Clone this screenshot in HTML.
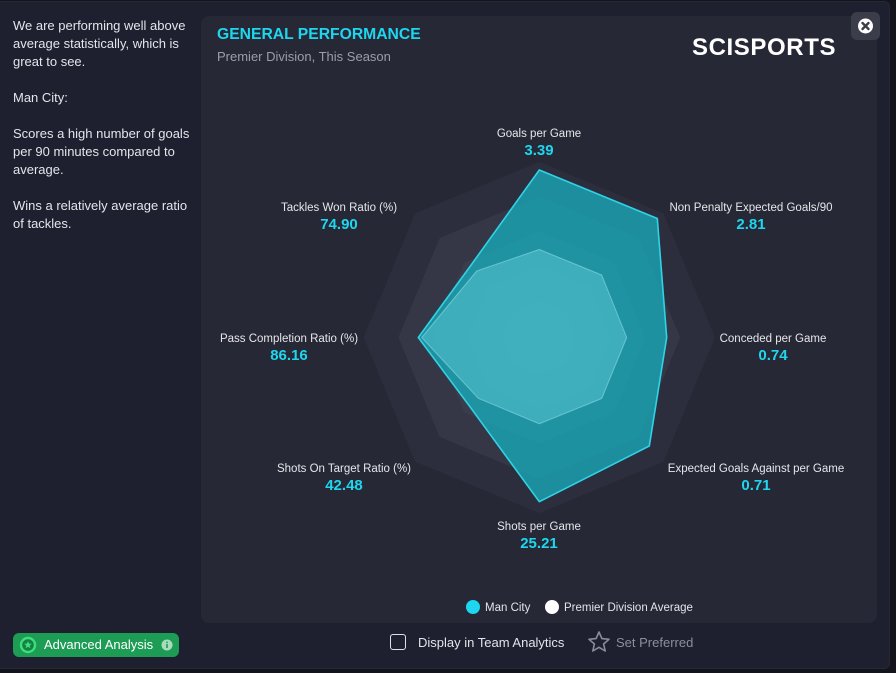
<!DOCTYPE html>
<html>
<head>
<meta charset="utf-8">
<style>
  html,body{margin:0;padding:0;}
  body{width:896px;height:673px;background:#14151c;position:relative;overflow:hidden;font-family:"Liberation Sans",sans-serif;}
  .modal{position:absolute;left:0;top:1px;width:889px;height:666px;background:#1e2030;border:1px solid #262838;border-left:none;border-radius:0 6px 6px 0;}
  .panel{position:absolute;left:201px;top:16px;width:676px;height:607px;background:#262836;border-radius:8px;}
  .lefttext{position:absolute;left:13px;top:17px;width:180px;color:#e4e4ea;font-size:13px;line-height:18px;}
  .lefttext p{margin:0 0 18px 0;}
  .title{position:absolute;left:217px;top:26px;color:#1ed6ee;font-weight:bold;font-size:15.7px;line-height:18px;white-space:nowrap;}
  .sub{position:absolute;left:217px;top:49px;color:#9b9da8;font-size:13px;line-height:16px;white-space:nowrap;}
  .logo{position:absolute;left:692px;top:34px;color:#fff;font-weight:bold;font-size:24px;line-height:28px;letter-spacing:0.6px;white-space:nowrap;}
  .close{position:absolute;left:851px;top:12px;width:29px;height:28px;background:#3b3d4b;border-radius:6px;}
  .lbl{position:absolute;width:300px;text-align:center;white-space:nowrap;}
  .lbl .n{color:#e6e6ea;font-size:11.5px;line-height:14px;height:14px;}
  .lbl .v{color:#1ed6ee;font-size:15px;font-weight:bold;line-height:20px;}
  .leg{position:absolute;top:601px;color:#e4e4ea;font-size:11.5px;line-height:14px;white-space:nowrap;}
  .dot{position:absolute;width:14px;height:14px;border-radius:50%;top:600px;}
  .bt{position:absolute;top:635px;font-size:13px;line-height:16px;white-space:nowrap;}
  .adv{position:absolute;left:13px;top:633px;width:166px;height:24px;background:#1d9c55;border-radius:6px;}
</style>
</head>
<body>
<div class="modal"></div>
<div class="panel"></div>

<div class="lefttext">
  <p>We are performing well above average statistically, which is great to see.</p>
  <p>Man City:</p>
  <p>Scores a high number of goals per 90 minutes compared to average.</p>
  <p>Wins a relatively average ratio of tackles.</p>
</div>

<div class="title">GENERAL PERFORMANCE</div>
<div class="sub">Premier Division, This Season</div>
<div class="logo">SCISPORTS</div>
<div class="close">
  <svg width="29" height="28" viewBox="0 0 29 28">
    <circle cx="14.5" cy="14" r="7.5" fill="#ffffff"/>
    <path d="M11.5 11 L17.5 17 M17.5 11 L11.5 17" stroke="#3b3d4b" stroke-width="2.4" stroke-linecap="round"/>
  </svg>
</div>

<svg style="position:absolute;left:0;top:0" width="896" height="673" viewBox="0 0 896 673">
  <g stroke-linejoin="round" stroke-width="3">
    <polygon points="539.3,163.5 662.3,214.5 713.3,337.5 662.3,460.5 539.3,511.5 416.3,460.5 365.3,337.5 416.3,214.5" fill="#2d2e3d" stroke="#2d2e3d"/>
    <polygon points="539.3,198.3 637.7,239.1 678.5,337.5 637.7,435.9 539.3,476.7 440.9,435.9 400.1,337.5 440.9,239.1" fill="#353646" stroke="#353646"/>
    <polygon points="539.3,233.1 613.1,263.7 643.7,337.5 613.1,411.3 539.3,441.9 465.5,411.3 434.9,337.5 465.5,263.7" fill="#3b3c4c" stroke="#3b3c4c"/>
    <polygon points="539.3,267.9 588.5,288.3 608.9,337.5 588.5,386.7 539.3,407.1 490.1,386.7 469.7,337.5 490.1,288.3" fill="#3f4051" stroke="#3f4051"/>
    <polygon points="539.3,302.7 563.9,312.9 574.1,337.5 563.9,362.1 539.3,372.3 514.7,362.1 504.5,337.5 514.7,312.9" fill="#434456" stroke="#434456"/>
  </g>
  <polygon points="539.3,170 657.3,218.5 666.7,337.5 649.3,446 539.3,501.7 470,406.8 418.3,337.5 469.3,267.5"
           fill="rgba(22,184,199,0.7)" stroke="#2fd3e6" stroke-width="1.6" stroke-linejoin="round"/>
  <polygon points="539.3,249.5 601.7,275 626.7,337.5 601.7,398.5 539.3,423.8 478.3,398.3 421.7,337.5 476.7,271"
           fill="rgba(136,237,249,0.3)" stroke="rgba(170,240,248,0.45)" stroke-width="1" stroke-linejoin="round"/>
</svg>

<div class="lbl" style="left:389px;top:127px"><div class="n">Goals per Game</div><div class="v">3.39</div></div>
<div class="lbl" style="left:601px;top:201px"><div class="n">Non Penalty Expected Goals/90</div><div class="v">2.81</div></div>
<div class="lbl" style="left:623px;top:332px"><div class="n">Conceded per Game</div><div class="v">0.74</div></div>
<div class="lbl" style="left:606px;top:462px"><div class="n">Expected Goals Against per Game</div><div class="v">0.71</div></div>
<div class="lbl" style="left:389px;top:520px"><div class="n">Shots per Game</div><div class="v">25.21</div></div>
<div class="lbl" style="left:194px;top:462px"><div class="n">Shots On Target Ratio (%)</div><div class="v">42.48</div></div>
<div class="lbl" style="left:139px;top:332px"><div class="n">Pass Completion Ratio (%)</div><div class="v">86.16</div></div>
<div class="lbl" style="left:189px;top:201px"><div class="n">Tackles Won Ratio (%)</div><div class="v">74.90</div></div>

<div class="dot" style="left:466px;background:#1ed6ee"></div>
<div class="leg" style="left:485px">Man City</div>
<div class="dot" style="left:545px;background:#ffffff"></div>
<div class="leg" style="left:564px">Premier Division Average</div>

<div style="position:absolute;left:390px;top:634px;width:14px;height:14px;border:1.6px solid #e0e0e6;border-radius:3px;"></div>
<div class="bt" style="left:418px;color:#e4e4ea">Display in Team Analytics</div>
<svg style="position:absolute;left:587px;top:630px" width="24" height="24" viewBox="0 0 24 24">
  <polygon points="12,2 14.9,8.6 22,9.3 16.6,14 18.2,21 12,17.3 5.8,21 7.4,14 2,9.3 9.1,8.6" fill="none" stroke="#8a8c98" stroke-width="1.6" stroke-linejoin="round"/>
</svg>
<div class="bt" style="left:616px;color:#8c8e9a">Set Preferred</div>

<div class="adv"></div>
<svg style="position:absolute;left:19px;top:636px" width="18" height="18" viewBox="0 0 18 18">
  <circle cx="9" cy="9" r="7" fill="#177f44" stroke="#3ae07c" stroke-width="2.4"/>
  <polygon points="9,5 10.1,7.6 12.8,7.8 10.7,9.6 11.4,12.2 9,10.8 6.6,12.2 7.3,9.6 5.2,7.8 7.9,7.6" fill="#3ae07c"/>
</svg>
<div class="bt" style="left:44px;top:637px;color:#ffffff">Advanced Analysis</div>
<svg style="position:absolute;left:161px;top:639px" width="12" height="12" viewBox="0 0 12 12">
  <circle cx="6" cy="6" r="5.5" fill="#a9dcbc"/>
  <rect x="5.2" y="5" width="1.6" height="4" fill="#1d9c55"/>
  <circle cx="6" cy="3.4" r="0.9" fill="#1d9c55"/>
</svg>
</body>
</html>
